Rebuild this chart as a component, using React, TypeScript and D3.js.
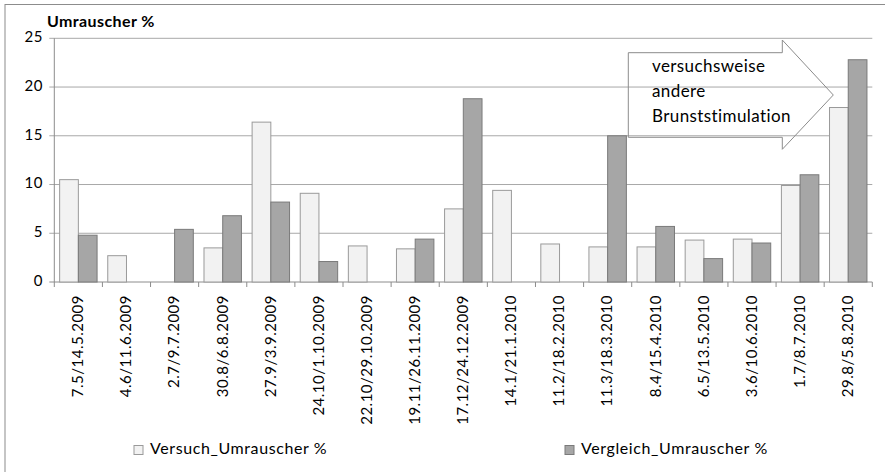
import * as d3 from 'd3';

const categories = [
  '7.5/14.5.2009',
  '4.6/11.6.2009',
  '2.7/9.7.2009',
  '30.8/6.8.2009',
  '27.9/3.9.2009',
  '24.10/1.10.2009',
  '22.10/29.10.2009',
  '19.11/26.11.2009',
  '17.12/24.12.2009',
  '14.1/21.1.2010',
  '11.2/18.2.2010',
  '11.3/18.3.2010',
  '8.4/15.4.2010',
  '6.5/13.5.2010',
  '3.6/10.6.2010',
  '1.7/8.7.2010',
  '29.8/5.8.2010',
];

const versuch: (number | null)[] = [
  10.5, 2.7, null, 3.5, 16.4, 9.1, 3.7, 3.4, 7.5, 9.4, 3.9, 3.6, 3.6, 4.3, 4.4, 9.9, 17.9,
];
const vergleich: (number | null)[] = [
  4.8, null, 5.4, 6.8, 8.2, 2.1, null, 4.4, 18.8, null, null, 15.0, 5.7, 2.4, 4.0, 11.0, 22.8,
];

const seriesNames = ['Versuch_Umrauscher %', 'Vergleich_Umrauscher %'];
const yTicks = [0, 5, 10, 15, 20, 25];
const annotationLines = ['versuchsweise', 'andere', 'Brunststimulation'];

const WIDTH = 885;
const HEIGHT = 472;
const FONT = 'Lato, "Open Sans", sans-serif';

const plot = { left: 54.3, right: 872.3, top: 38.3, bottom: 282 };

const fills = ['#f2f2f2', '#a6a6a6'];
const strokes = ['#9a9a9a', '#7a7a7a'];

export default function App() {
  const x = d3
    .scaleBand<string>()
    .domain(categories)
    .range([plot.left, plot.right])
    .paddingInner(0.222)
    .paddingOuter(0.111);
  const step = x.step();
  const x1 = d3.scaleBand<number>().domain([0, 1]).range([0, x.bandwidth()]);
  const y = d3.scaleLinear().domain([0, 25]).range([plot.bottom, plot.top]);

  const series = [versuch, vergleich];

  // arrow annotation
  const ax0 = 628.3;
  const ax1 = 782.3;
  const tip = 833.3;
  const ry0 = 52.7;
  const ry1 = 137.3;
  const hy0 = 40;
  const hy1 = 149.3;
  const mid = (ry0 + ry1) / 2;
  const arrow = d3.line()([
    [ax0, ry0],
    [ax1, ry0],
    [ax1, hy0],
    [tip, mid],
    [ax1, hy1],
    [ax1, ry1],
    [ax0, ry1],
  ]) + 'Z';

  return (
    <svg
      width={WIDTH}
      height={HEIGHT}
      style={{ position: 'absolute', left: 0, top: 0, background: '#fff' }}
      fontFamily={FONT}
    >
      <rect x={5} y={4.5} width={WIDTH + 10} height={HEIGHT + 10} fill="#fff" stroke="#8c8c8c" strokeWidth={1} />

      <text x={47} y={27} fontSize={16} fontWeight="bold" letterSpacing={0.4} fill="#000">
        Umrauscher %
      </text>

      {yTicks.map((t) => (
        <g key={t}>
          <line
            x1={plot.left - 5}
            x2={plot.right}
            y1={y(t)}
            y2={y(t)}
            stroke={t === 0 ? '#8c8c8c' : '#a8a8a8'}
            strokeWidth={1}
          />
          <text x={43} y={y(t)} fontSize={15} letterSpacing={0.5} textAnchor="end" dominantBaseline="middle" fill="#000">
            {t}
          </text>
        </g>
      ))}
      <line x1={plot.left} x2={plot.left} y1={plot.top} y2={plot.bottom} stroke="#8c8c8c" />

      {d3.range(categories.length + 1).map((i) => (
        <line
          key={i}
          x1={plot.left + i * step}
          x2={plot.left + i * step}
          y1={plot.bottom}
          y2={plot.bottom + 5}
          stroke="#8c8c8c"
        />
      ))}

      {series.map((vals, si) =>
        vals.map((v, i) =>
          v == null ? null : (
            <rect
              key={`${si}-${i}`}
              x={(x(categories[i]) ?? 0) + (x1(si) ?? 0)}
              y={y(v)}
              width={x1.bandwidth()}
              height={y(0) - y(v)}
              fill={fills[si]}
              stroke={strokes[si]}
              strokeWidth={1}
            />
          ),
        ),
      )}

      {categories.map((c) => {
        const cx = (x(c) ?? 0) + x.bandwidth() / 2;
        return (
          <text
            key={c}
            transform={`translate(${cx + 1},${plot.bottom + 13}) rotate(-90)`}
            fontSize={15}
            letterSpacing={0.5}
            textAnchor="end"
            dominantBaseline="middle"
            fill="#000"
          >
            {c}
          </text>
        );
      })}

      <path d={arrow} fill="none" stroke="#8c8c8c" strokeWidth={1} />
      {annotationLines.map((l, i) => (
        <text key={l} x={652} y={71.5 + i * 25} fontSize={17} letterSpacing={0.4} fill="#000">
          {l}
        </text>
      ))}

      {seriesNames.map((name, i) => {
        const lx = [134, 565][i];
        return (
          <g key={name}>
            <rect x={lx} y={445.5} width={9} height={9} fill={fills[i]} stroke={strokes[i]} />
            <text x={lx + 16} y={450} fontSize={16} letterSpacing={0.6} dominantBaseline="middle" fill="#000">
              {name}
            </text>
          </g>
        );
      })}
    </svg>
  );
}
